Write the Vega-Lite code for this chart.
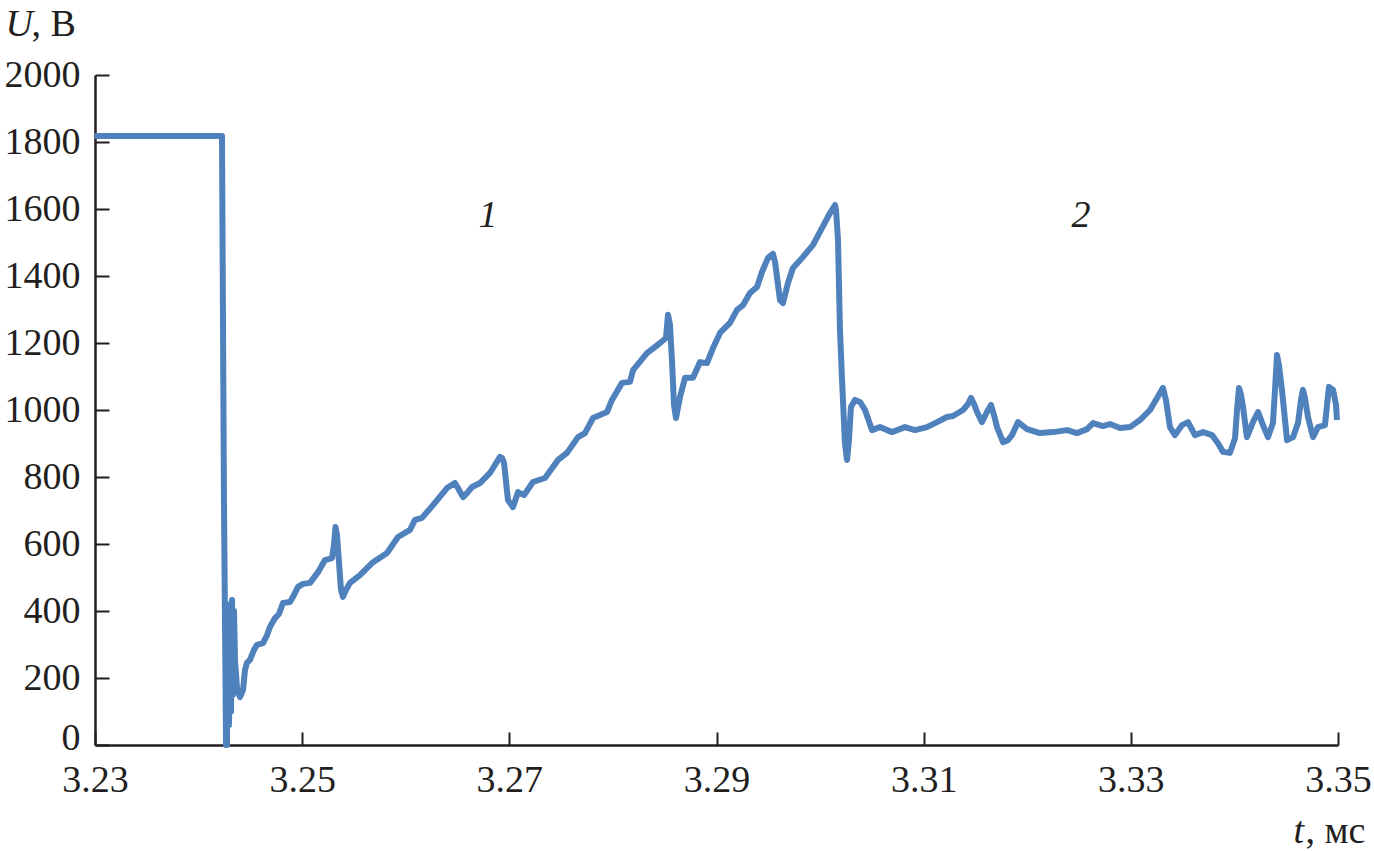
{
  "$schema": "https://vega.github.io/schema/vega-lite/v6.json",
  "width": 1243,
  "height": 670,
  "autosize": {"type": "none"},
  "padding": {"left": 95, "top": 75, "right": 36, "bottom": 106},
  "background": "white",
  "config": {
    "view": {"stroke": null},
    "font": "Liberation Serif, Times New Roman, Times, DejaVu Serif, serif",
    "axis": {
      "labelFont": "Liberation Serif, Times New Roman, Times, DejaVu Serif, serif",
      "labelFontSize": 38,
      "labelColor": "#231F20",
      "titleFont": "Liberation Serif, Times New Roman, Times, DejaVu Serif, serif",
      "titleFontSize": 38,
      "titleFontWeight": "normal",
      "titleColor": "#231F20",
      "domainColor": "#231F20",
      "domainWidth": 2.5,
      "tickColor": "#231F20",
      "tickWidth": 2,
      "grid": false
    }
  },
  "resolve": {"axis": {"x": "independent", "y": "independent"}},
  "layer": [
    {
      "data": {"values": [
        {"t":3.23000,"u":1818},{"t":3.24226,"u":1818},{"t":3.24245,"u":731},{"t":3.24265,"u":0},{"t":3.24274,"u":0},
        {"t":3.24284,"u":380},{"t":3.24294,"u":60},{"t":3.24303,"u":420},{"t":3.24313,"u":100},{"t":3.24323,"u":433},
        {"t":3.24332,"u":150},{"t":3.24342,"u":400},{"t":3.24352,"u":250},{"t":3.24371,"u":170},{"t":3.24400,"u":143},
        {"t":3.24429,"u":164},{"t":3.24448,"u":224},{"t":3.24467,"u":245},{"t":3.24496,"u":254},{"t":3.24535,"u":284},
        {"t":3.24564,"u":299},{"t":3.24622,"u":304},{"t":3.24661,"u":328},{"t":3.24689,"u":352},{"t":3.24738,"u":379},
        {"t":3.24776,"u":391},{"t":3.24815,"u":424},{"t":3.24883,"u":427},{"t":3.24921,"u":448},{"t":3.24960,"u":472},
        {"t":3.25008,"u":481},{"t":3.25076,"u":484},{"t":3.25153,"u":516},{"t":3.25220,"u":552},{"t":3.25288,"u":558},
        {"t":3.25307,"u":597},{"t":3.25322,"u":651},{"t":3.25336,"u":627},{"t":3.25356,"u":543},{"t":3.25375,"u":463},
        {"t":3.25394,"u":442},{"t":3.25423,"u":463},{"t":3.25462,"u":484},{"t":3.25558,"u":507},{"t":3.25674,"u":543},
        {"t":3.25819,"u":573},{"t":3.25925,"u":621},{"t":3.26041,"u":642},{"t":3.26089,"u":672},{"t":3.26157,"u":678},
        {"t":3.26263,"u":716},{"t":3.26398,"u":767},{"t":3.26475,"u":782},{"t":3.26504,"u":767},{"t":3.26553,"u":740},
        {"t":3.26591,"u":752},{"t":3.26640,"u":770},{"t":3.26717,"u":782},{"t":3.26813,"u":812},{"t":3.26910,"u":860},
        {"t":3.26929,"u":857},{"t":3.26949,"u":842},{"t":3.26987,"u":731},{"t":3.27035,"u":710},{"t":3.27084,"u":755},
        {"t":3.27142,"u":746},{"t":3.27228,"u":785},{"t":3.27344,"u":797},{"t":3.27470,"u":851},{"t":3.27557,"u":872},
        {"t":3.27663,"u":919},{"t":3.27730,"u":931},{"t":3.27808,"u":976},{"t":3.27943,"u":994},{"t":3.27991,"u":1030},
        {"t":3.28088,"u":1081},{"t":3.28165,"u":1084},{"t":3.28194,"u":1119},{"t":3.28329,"u":1170},{"t":3.28455,"u":1200},
        {"t":3.28512,"u":1215},{"t":3.28532,"u":1284},{"t":3.28551,"u":1254},{"t":3.28570,"u":1149},{"t":3.28590,"u":1015},
        {"t":3.28609,"u":976},{"t":3.28648,"u":1039},{"t":3.28696,"u":1096},{"t":3.28773,"u":1096},{"t":3.28841,"u":1143},
        {"t":3.28908,"u":1140},{"t":3.28966,"u":1185},{"t":3.29034,"u":1230},{"t":3.29130,"u":1260},{"t":3.29198,"u":1299},
        {"t":3.29256,"u":1313},{"t":3.29323,"u":1349},{"t":3.29391,"u":1367},{"t":3.29439,"u":1412},{"t":3.29497,"u":1454},
        {"t":3.29545,"u":1466},{"t":3.29565,"u":1442},{"t":3.29584,"u":1397},{"t":3.29613,"u":1328},{"t":3.29642,"u":1319},
        {"t":3.29690,"u":1379},{"t":3.29738,"u":1424},{"t":3.29835,"u":1457},{"t":3.29932,"u":1493},{"t":3.30018,"u":1543},
        {"t":3.30096,"u":1588},{"t":3.30144,"u":1612},{"t":3.30154,"u":1597},{"t":3.30173,"u":1507},{"t":3.30192,"u":1239},
        {"t":3.30212,"u":1090},{"t":3.30240,"u":901},{"t":3.30260,"u":851},{"t":3.30279,"u":910},{"t":3.30298,"u":1009},
        {"t":3.30337,"u":1030},{"t":3.30385,"u":1024},{"t":3.30434,"u":1000},{"t":3.30501,"u":940},{"t":3.30578,"u":949},
        {"t":3.30694,"u":934},{"t":3.30820,"u":949},{"t":3.30916,"u":940},{"t":3.31032,"u":949},{"t":3.31129,"u":964},
        {"t":3.31225,"u":979},{"t":3.31283,"u":982},{"t":3.31380,"u":1000},{"t":3.31428,"u":1018},{"t":3.31457,"u":1036},
        {"t":3.31486,"u":1018},{"t":3.31515,"u":994},{"t":3.31563,"u":964},{"t":3.31611,"u":994},{"t":3.31650,"u":1015},
        {"t":3.31679,"u":985},{"t":3.31708,"u":949},{"t":3.31766,"u":904},{"t":3.31814,"u":910},{"t":3.31853,"u":925},
        {"t":3.31911,"u":964},{"t":3.31998,"u":943},{"t":3.32123,"u":931},{"t":3.32249,"u":934},{"t":3.32384,"u":940},
        {"t":3.32480,"u":931},{"t":3.32577,"u":943},{"t":3.32635,"u":961},{"t":3.32731,"u":952},{"t":3.32799,"u":958},
        {"t":3.32895,"u":946},{"t":3.32992,"u":949},{"t":3.33088,"u":970},{"t":3.33185,"u":1000},{"t":3.33253,"u":1036},
        {"t":3.33310,"u":1066},{"t":3.33339,"u":1030},{"t":3.33378,"u":949},{"t":3.33426,"u":925},{"t":3.33494,"u":955},
        {"t":3.33552,"u":964},{"t":3.33619,"u":925},{"t":3.33697,"u":934},{"t":3.33784,"u":925},{"t":3.33841,"u":901},
        {"t":3.33890,"u":875},{"t":3.33957,"u":872},{"t":3.34006,"u":916},{"t":3.34025,"u":1000},{"t":3.34044,"u":1066},
        {"t":3.34064,"u":1045},{"t":3.34083,"u":1009},{"t":3.34121,"u":919},{"t":3.34179,"u":964},{"t":3.34228,"u":994},
        {"t":3.34276,"u":955},{"t":3.34324,"u":919},{"t":3.34372,"u":961},{"t":3.34392,"u":1060},{"t":3.34411,"u":1164},
        {"t":3.34430,"u":1134},{"t":3.34459,"u":1060},{"t":3.34508,"u":910},{"t":3.34566,"u":919},{"t":3.34614,"u":961},
        {"t":3.34643,"u":1030},{"t":3.34662,"u":1060},{"t":3.34681,"u":1036},{"t":3.34710,"u":979},{"t":3.34759,"u":919},
        {"t":3.34807,"u":949},{"t":3.34874,"u":955},{"t":3.34894,"u":1015},{"t":3.34913,"u":1069},{"t":3.34952,"u":1060},
        {"t":3.34981,"u":1015},{"t":3.34990,"u":970}
      ]},
      "mark": {"type": "line", "color": "#4F81BD", "strokeWidth": 6, "strokeJoin": "round", "clip": false},
      "encoding": {
        "x": {
          "field": "t", "type": "quantitative",
          "scale": {"domain": [3.23, 3.35], "nice": false, "zero": false},
          "axis": {
            "values": [3.23, 3.25, 3.27, 3.29, 3.31, 3.33, 3.35],
            "format": ".2f",
            "tickSize": -13,
            "labelPadding": 29,
            "labelBaseline": "top",
            "labelFlush": false,
            "labelOverlap": false,
            "title": "t",
            "titleFontStyle": "italic",
            "titleX": 1198,
            "titleY": 97,
            "titleAlign": "left",
            "titleAnchor": null,
            "titleBaseline": "alphabetic"
          }
        },
        "y": {
          "field": "u", "type": "quantitative",
          "scale": {"domain": [0, 2000], "nice": false},
          "axis": {
            "values": [0, 200, 400, 600, 800, 1000, 1200, 1400, 1600, 1800, 2000],
            "format": "d",
            "tickSize": -14,
            "labelPadding": 29,
            "labelOffset": {"condition": {"test": "datum.value === 0", "value": -7}, "value": 0},
            "labelFlush": false,
            "labelOverlap": false,
            "title": "U",
            "titleFontStyle": "italic",
            "titleAngle": 0,
            "titleX": -90,
            "titleY": -40,
            "titleAlign": "left",
            "titleAnchor": null,
            "titleBaseline": "alphabetic"
          }
        }
      }
    },
    {
      "data": {"values": [
        {"t": 3.26794, "u": 1546, "label": "1"},
        {"t": 3.32519, "u": 1546, "label": "2"}
      ]},
      "mark": {"type": "text", "font": "Liberation Serif, Times New Roman, Times, DejaVu Serif, serif", "fontSize": 38, "fontStyle": "italic", "color": "#231F20", "align": "center", "baseline": "alphabetic"},
      "encoding": {
        "x": {
          "field": "t", "type": "quantitative",
          "axis": {
            "orient": "top", "domain": false, "ticks": false, "labels": false,
            "title": ", мс",
            "titleFontStyle": "normal",
            "titleX": 1210,
            "titleY": 767,
            "titleAlign": "left",
            "titleAnchor": null,
            "titleBaseline": "alphabetic"
          }
        },
        "y": {
          "field": "u", "type": "quantitative",
          "axis": {
            "orient": "right", "domain": false, "ticks": false, "labels": false,
            "title": ", В",
            "titleFontStyle": "normal",
            "titleAngle": 0,
            "titleX": -1307,
            "titleY": -40,
            "titleAlign": "left",
            "titleAnchor": null,
            "titleBaseline": "alphabetic"
          }
        },
        "text": {"field": "label", "type": "nominal"}
      }
    }
  ]
}
